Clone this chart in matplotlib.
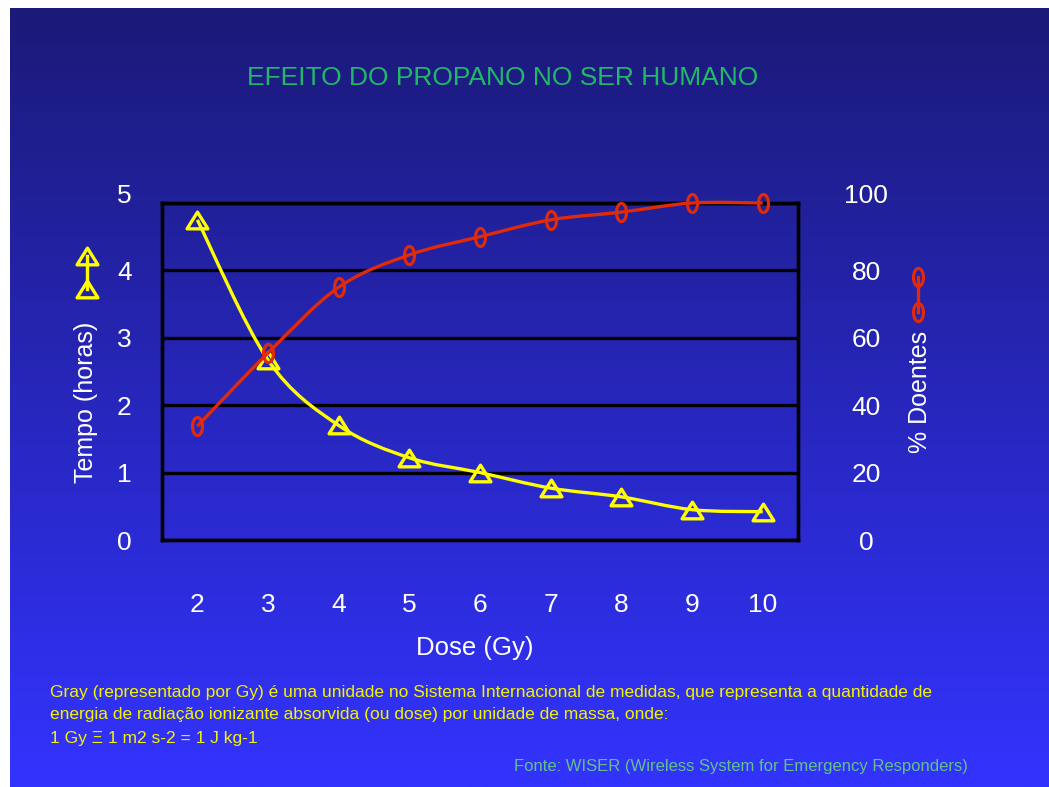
import numpy as np
import matplotlib
matplotlib.use("Agg")
import matplotlib.pyplot as plt
from matplotlib.path import Path
from matplotlib.patches import PathPatch
from matplotlib.lines import Line2D
import matplotlib.transforms as mtransforms

# ---------------- data ----------------
dose = [2, 3, 4, 5, 6, 7, 8, 9, 10]
tempo_horas = [4.75, 2.67, 1.70, 1.22, 1.0, 0.77, 0.64, 0.45, 0.42]
doentes_pct = [33.8, 55.5, 75.0, 84.6, 90.0, 95.0, 97.3, 100.0, 100.0]
y_left_ticks = [0, 1, 2, 3, 4, 5]
y_right_ticks = [0, 20, 40, 60, 80, 100]

title = "EFEITO DO PROPANO NO SER HUMANO"
xlabel = "Dose (Gy)"
ylabel_left = "Tempo (horas)"
ylabel_right = "% Doentes"
note_lines = [
    "Gray (representado por Gy) é uma unidade no Sistema Internacional de medidas, que representa a quantidade de",
    "energia de radiação ionizante absorvida (ou dose) por unidade de massa, onde:",
    "1 Gy Ξ 1 m2 s-2 = 1 J kg-1",
]
source = "Fonte: WISER (Wireless System for Emergency Responders)"

# ---------------- style ----------------
FONT = ["Liberation Sans", "DejaVu Sans"]
plt.rcParams["font.family"] = FONT
W, H = 1049, 787
YELLOW = "#ffff00"
RED = "#e02a08"
GREEN = "#22b868"
SRC_GREEN = "#62c28a"
NOTE_YELLOW = "#f4f400"

fig = plt.figure(figsize=(W / 100, H / 100), dpi=100, facecolor="white")

# background gradient (slide)
bg = fig.add_axes([10 / W, 0, (W - 10) / W, (H - 8) / H], zorder=-10)
top = np.array([27, 26, 120]) / 255
bot = np.array([51, 51, 255]) / 255
t = np.linspace(0, 1, 256)[:, None]
grad = top[None, :] * (1 - t) + bot[None, :] * t
bg.imshow(grad[:, None, :], aspect="auto", extent=[0, 1, 0, 1], interpolation="bilinear")
bg.set_axis_off()


def fx(px):
    return px / W


def fy(py):
    return 1 - py / H


ax = fig.add_axes([fx(162), fy(540), (798 - 162) / W, (540 - 203) / H])
ax.patch.set_alpha(0)
ax2 = ax.twinx()
ax2.patch.set_alpha(0)

ax.set_xlim(1.5, 10.5)
ax.set_ylim(0, 5)
ax2.set_ylim(0, 100)

LW = 2.4
for a in (ax, ax2):
    for s in a.spines.values():
        s.set_color("black")
        s.set_linewidth(LW)

ax.set_yticks(y_left_ticks)
ax.set_yticklabels([str(v) for v in y_left_ticks])
ax2.set_yticks(y_right_ticks)
ax2.set_yticklabels([str(v) for v in y_right_ticks])
ax.set_xticks(dose)
ax.set_xticklabels([str(v) for v in dose])

ax.yaxis.grid(True, color="black", linewidth=LW)
ax.set_axisbelow(True)

ax.tick_params(axis="x", length=0, pad=38, labelsize=19, labelcolor="white")
ax.tick_params(axis="y", length=0, pad=27, labelsize=19, labelcolor="white")
ax2.tick_params(axis="y", length=0, pad=49, labelsize=19, labelcolor="white")
for lab in ax.get_yticklabels():
    lab.set_horizontalalignment("center")
for lab in ax2.get_yticklabels():
    lab.set_horizontalalignment("center")

# top labels sit a bit higher in the reference
off = mtransforms.ScaledTranslation(0, 10 / 100, fig.dpi_scale_trans)
tl = ax.get_yticklabels()[-1]
tl.set_transform(tl.get_transform() + off)
tr = ax2.get_yticklabels()[-1]
tr.set_transform(tr.get_transform() + off)


def smooth_path(xs, ys):
    pts = np.column_stack([xs, ys]).astype(float)
    n = len(pts)
    verts = [pts[0]]
    codes = [Path.MOVETO]
    for i in range(n - 1):
        p0 = pts[i - 1] if i > 0 else pts[i]
        p1 = pts[i]
        p2 = pts[i + 1]
        p3 = pts[i + 2] if i + 2 < n else pts[i + 1]
        c1 = p1 + (p2 - p0) / 6
        c2 = p2 - (p3 - p1) / 6
        verts += [c1, c2, p2]
        codes += [Path.CURVE4] * 3
    return Path(verts, codes)


tri = Path([(0, 0.8), (-1, -0.8), (1, -0.8), (0, 0.8)],
           [Path.MOVETO, Path.LINETO, Path.LINETO, Path.CLOSEPOLY])
theta = np.linspace(0, 2 * np.pi, 60)
ell = Path(np.column_stack([0.55 * np.cos(theta), np.sin(theta)]), closed=True)

ax.add_patch(PathPatch(smooth_path(dose, tempo_horas), facecolor="none",
                       edgecolor=YELLOW, linewidth=2.4, transform=ax.transData, zorder=3,
                       clip_on=False))
ax.plot(dose, tempo_horas, linestyle="none", marker=tri, markersize=15,
        markerfacecolor="none", markeredgecolor=YELLOW, markeredgewidth=2.4, zorder=4,
        clip_on=False)

ax2.add_patch(PathPatch(smooth_path(dose, doentes_pct), facecolor="none",
                        edgecolor=RED, linewidth=2.4, transform=ax2.transData, zorder=3,
                        clip_on=False))
ax2.plot(dose, doentes_pct, linestyle="none", marker=ell, markersize=13,
         markerfacecolor="none", markeredgecolor=RED, markeredgewidth=2.3, zorder=4,
         clip_on=False)

# axis labels
fig.text(fx(475), fy(648), xlabel, color="white", fontsize=18.5, ha="center", va="center")
fig.text(fx(86), fy(402), ylabel_left, color="white", fontsize=18, ha="center",
         va="center", rotation=90)
fig.text(fx(920), fy(392), ylabel_right, color="white", fontsize=18, ha="center",
         va="center", rotation=90)

# rotated legend keys
fig.add_artist(Line2D([fx(87), fx(87)], [fy(256), fy(289)], transform=fig.transFigure,
                      color=YELLOW, linewidth=2.4, marker=tri, markersize=15,
                      markerfacecolor="none", markeredgecolor=YELLOW, markeredgewidth=2.4))
fig.add_artist(Line2D([fx(918), fx(918)], [fy(277), fy(312)], transform=fig.transFigure,
                      color=RED, linewidth=2.4, marker=ell, markersize=13,
                      markerfacecolor="none", markeredgecolor=RED, markeredgewidth=2.3))

# title
fig.text(fx(503), fy(78), title, color=GREEN, fontsize=19, ha="center", va="center")

# notes
for i, line in enumerate(note_lines):
    fig.text(fx(50), fy(692 + 23 * i), line, color=NOTE_YELLOW, fontsize=12.5,
             ha="left", va="center")
fig.text(fx(968), fy(766), source, color=SRC_GREEN, fontsize=12, ha="right", va="center")

fig.savefig("out.png", dpi=100, facecolor="white")
